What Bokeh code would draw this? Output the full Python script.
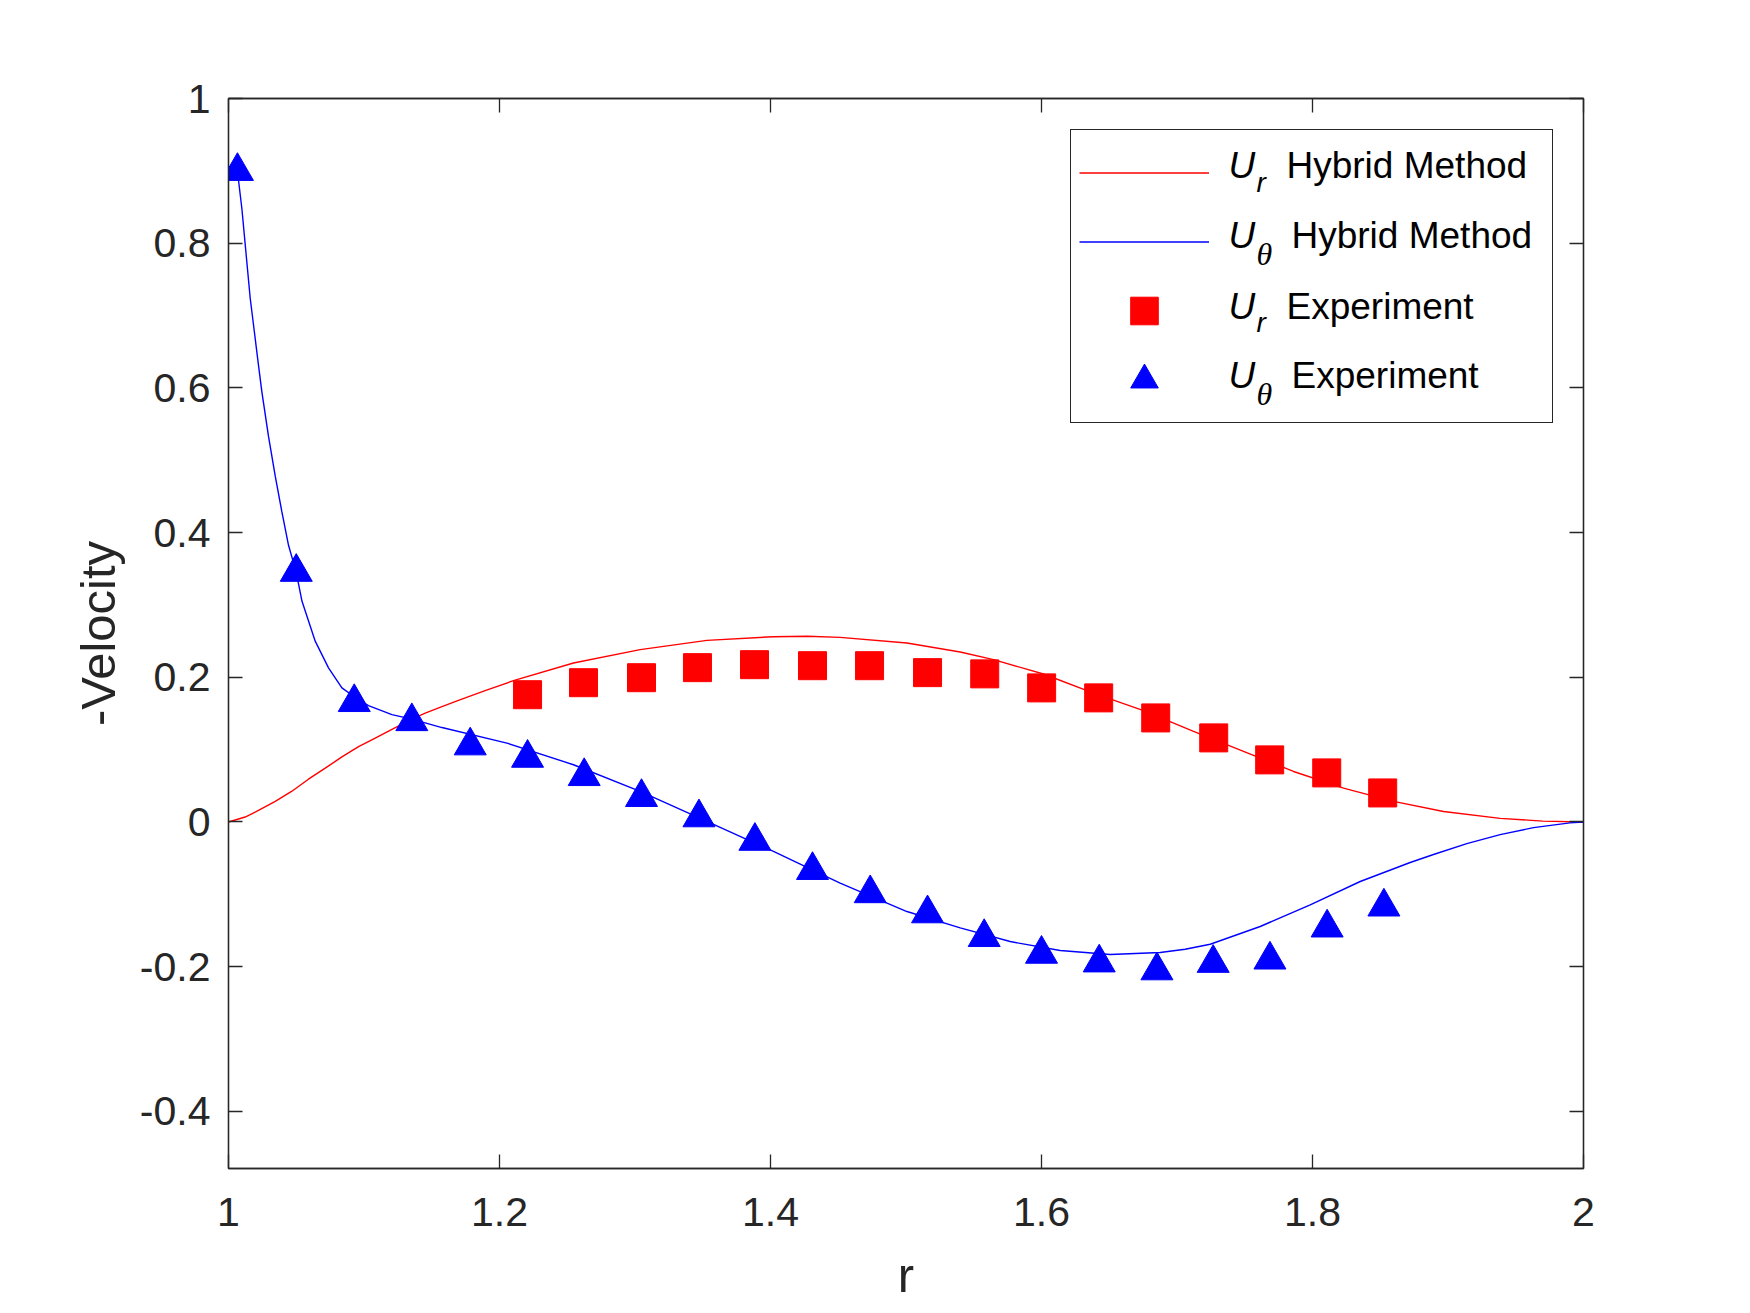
from bokeh.plotting import figure
from bokeh.models import (Range1d, LinearAxis, FixedTicker, CustomJSTickFormatter,
                          Legend, LegendItem, Label)
from bokeh.embed import file_html
from bokeh.resources import INLINE

# ---------------- data ----------------
ur_hybrid_r = [1.0, 1.0123, 1.0221, 1.0345, 1.0468, 1.059, 1.0714, 1.0837, 1.096,
               1.1083, 1.1206, 1.1353, 1.1452, 1.1575, 1.1697, 1.1894, 1.2103, 1.2546,
               1.3038, 1.3531, 1.4022, 1.4269, 1.4514, 1.5007, 1.54, 1.5646, 1.6015,
               1.6384, 1.6753, 1.7122, 1.7491, 1.786, 1.8229, 1.8598, 1.8967, 1.9385,
               1.97, 2.0]
ur_hybrid = [0.0, 0.0068, 0.0159, 0.0284, 0.0425, 0.0591, 0.0744, 0.0899, 0.104,
             0.1158, 0.1281, 0.1422, 0.1505, 0.1595, 0.168, 0.1815, 0.1953, 0.2197,
             0.2382, 0.251, 0.2561, 0.2566, 0.2552, 0.2473, 0.2349, 0.2243, 0.2045,
             0.1782, 0.1538, 0.1252, 0.0975, 0.0698, 0.0468, 0.0284, 0.0145, 0.005,
             0.0012, 0.0]

ut_hybrid_r = [1.0066, 1.0099, 1.016, 1.0221, 1.0246, 1.0295, 1.0345, 1.0394, 1.0443,
               1.050, 1.0542, 1.064, 1.0738, 1.0837, 1.0928, 1.1033, 1.1206, 1.1353,
               1.1575, 1.2055, 1.2546, 1.3038, 1.3531, 1.4022, 1.4514, 1.5007, 1.54,
               1.5769, 1.6138, 1.6507, 1.6876, 1.706, 1.7245, 1.7614, 1.7983, 1.8352,
               1.8721, 1.8893, 1.9139, 1.9385, 1.9631, 1.99, 2.0]
ut_hybrid = [0.8995, 0.8473, 0.7242, 0.6318, 0.5949, 0.5332, 0.4779, 0.4286, 0.3824,
             0.345, 0.3054, 0.2499, 0.213, 0.1853, 0.173, 0.1607, 0.1484, 0.1422,
             0.1305, 0.109, 0.0791, 0.0422, 0.0007, -0.0408, -0.0846, -0.1238, -0.1464,
             -0.1653, -0.1777, -0.1833, -0.1805, -0.176, -0.169, -0.1445, -0.1145,
             -0.0823, -0.056, -0.045, -0.030, -0.0175, -0.0078, -0.0012, 0.0]

ur_exp_r = [1.2207, 1.262, 1.3048, 1.3461, 1.3882, 1.431, 1.4731, 1.5159,
            1.5581, 1.6001, 1.6422, 1.6843, 1.7271, 1.7684, 1.8105, 1.8518]
ur_exp = [0.1759, 0.1925, 0.1994, 0.2133, 0.2174, 0.216, 0.216, 0.2064,
          0.2047, 0.1853, 0.1715, 0.1438, 0.1162, 0.0858, 0.0678, 0.0401]

ut_exp_r = [1.0066, 1.050, 1.0928, 1.1353, 1.1784, 1.2207, 1.2625, 1.3048, 1.3472,
            1.3885, 1.431, 1.4736, 1.5159, 1.5577, 1.600, 1.6426, 1.6852, 1.7267,
            1.7686, 1.8108, 1.8527]
ut_exp = [0.8995, 0.3454, 0.1654, 0.139, 0.1055, 0.0884, 0.0631, 0.0342, 0.0061,
          -0.0264, -0.0667, -0.0988, -0.1266, -0.1594, -0.1825, -0.1945, -0.2054,
          -0.1951, -0.1905, -0.1462, -0.1172]

x_ticks = [1.0, 1.2, 1.4, 1.6, 1.8, 2.0]
x_tick_labels = ["1", "1.2", "1.4", "1.6", "1.8", "2"]
y_ticks = [-0.4, -0.2, 0.0, 0.2, 0.4, 0.6, 0.8, 1.0]
y_tick_labels = ["-0.4", "-0.2", "0", "0.2", "0.4", "0.6", "0.8", "1"]

legend_main = ["U", "U", "U", "U"]
legend_sub = ["r", "\u03b8", "r", "\u03b8"]
legend_text = ["Hybrid Method", "Hybrid Method", "Experiment", "Experiment"]

# ---------------- figure ----------------
AX = "#262626"
RED = "#ff0000"
BLUE = "#0000ff"
FRAME_W, FRAME_H = 1355, 1070
BL, BT, BR, BB = 228, 98, 159, 137
XR = (1.0, 2.0)
YR = (-0.479, 1.0)

p = figure(frame_width=FRAME_W, frame_height=FRAME_H,
           min_border_left=BL, min_border_right=BR, min_border_top=BT, min_border_bottom=BB,
           x_range=Range1d(*XR), y_range=Range1d(*YR),
           x_axis_type=None, y_axis_type=None,
           output_backend="svg", toolbar_location=None)
p.grid.visible = False
p.outline_line_color = AX
p.outline_line_width = 1.3
p.background_fill_color = "white"
p.border_fill_color = "white"

FMT_CODE = """
for (let i = 0; i < tvals.length; i++) {
  if (Math.abs(tvals[i] - tick) < 1e-9) { return tlabels[i]; }
}
return '';
"""


def make_axis(ticks, labels, show):
    lab = labels if show else [""] * len(labels)
    ax = LinearAxis(ticker=FixedTicker(ticks=ticks),
                    formatter=CustomJSTickFormatter(args=dict(tvals=ticks, tlabels=lab), code=FMT_CODE))
    ax.axis_line_color = AX
    ax.axis_line_width = 1.3
    ax.major_tick_line_color = AX
    ax.major_tick_line_width = 1.3
    ax.major_tick_in = 14
    ax.major_tick_out = 0
    ax.minor_tick_line_color = None
    ax.major_label_text_font = "Liberation Sans"
    ax.major_label_text_font_size = "41px" if show else "1px"
    ax.major_label_text_color = AX
    ax.axis_label_text_font = "Liberation Sans"
    ax.axis_label_text_font_style = "normal"
    ax.axis_label_text_font_size = "49px"
    ax.axis_label_text_color = AX
    return ax


xb = make_axis(x_ticks, x_tick_labels, True)
xb.axis_label = "r"
xb.major_label_standoff = 29
xb.axis_label_standoff = 19
yl = make_axis(y_ticks, y_tick_labels, True)
yl.axis_label = "-Velocity"
yl.major_label_standoff = 18
yl.axis_label_standoff = 12
xt = make_axis(x_ticks, x_tick_labels, False)
yr = make_axis(y_ticks, y_tick_labels, False)
p.add_layout(xb, "below")
p.add_layout(yl, "left")
p.add_layout(xt, "above")
p.add_layout(yr, "right")

# ---------------- series ----------------
l_ur = p.line(ur_hybrid_r, ur_hybrid, line_color=RED, line_width=1.4)
l_ut = p.line(ut_hybrid_r, ut_hybrid, line_color=BLUE, line_width=1.4)
s_ur = p.scatter(ur_exp_r, ur_exp, marker="square", size=28,
                 fill_color=RED, line_color=RED, line_width=1)
s_ut = p.scatter(ut_exp_r, ut_exp, marker="triangle", size=32,
                 fill_color=BLUE, line_color=BLUE, line_width=1)

# ---------------- legend (glyphs) ----------------
LEG_LEFT, LEG_BOTTOM = 1070, 422.7   # page pixels of the reference
frame_left_px, frame_top_px = BL, BT
frame_bottom_px = frame_top_px + FRAME_H
legend = Legend(items=[LegendItem(label=" ", renderers=[r]) for r in (l_ur, l_ut, s_ur, s_ut)],
                location=(LEG_LEFT - frame_left_px, frame_bottom_px - LEG_BOTTOM),
                padding=8, spacing=0, margin=0,
                glyph_width=130, glyph_height=69, label_height=69,
                label_width=330, label_standoff=5,
                label_text_font="Liberation Sans", label_text_font_size="37px",
                border_line_color=AX, border_line_width=1.4, border_line_alpha=1.0,
                background_fill_color="white", background_fill_alpha=0.0)
p.add_layout(legend, "center")


def px_to_data(px, py):
    x = XR[0] + (px - frame_left_px) / FRAME_W * (XR[1] - XR[0])
    y = YR[1] - (py - frame_top_px) / FRAME_H * (YR[1] - YR[0])
    return x, y


row_base = [165, 235, 306, 375]
sub_base = [182, 253, 322, 393]
text_left = [1286, 1291, 1286, 1291]
for i in range(4):
    x, y = px_to_data(1228, row_base[i])
    p.add_layout(Label(x=x, y=y, text=legend_main[i], text_font="Liberation Sans",
                       text_font_style="italic", text_font_size="37px", text_color="black",
                       text_baseline="alphabetic", text_align="left", level="overlay"))
    x, y = px_to_data(1256, sub_base[i])
    sub_font = "Liberation Sans" if legend_sub[i] == "r" else "Liberation Serif"
    sub_size = "28px" if legend_sub[i] == "r" else "32px"
    p.add_layout(Label(x=x, y=y, text=legend_sub[i], text_font=sub_font,
                       text_font_style="italic", text_font_size=sub_size, text_color="black",
                       text_baseline="alphabetic", text_align="left", level="overlay"))
    x, y = px_to_data(text_left[i], row_base[i])
    p.add_layout(Label(x=x, y=y, text=legend_text[i], text_font="Liberation Sans",
                       text_font_size="37px", text_color="black",
                       text_baseline="alphabetic", text_align="left", level="overlay"))

open("out.html", "w").write(file_html(p, INLINE))
